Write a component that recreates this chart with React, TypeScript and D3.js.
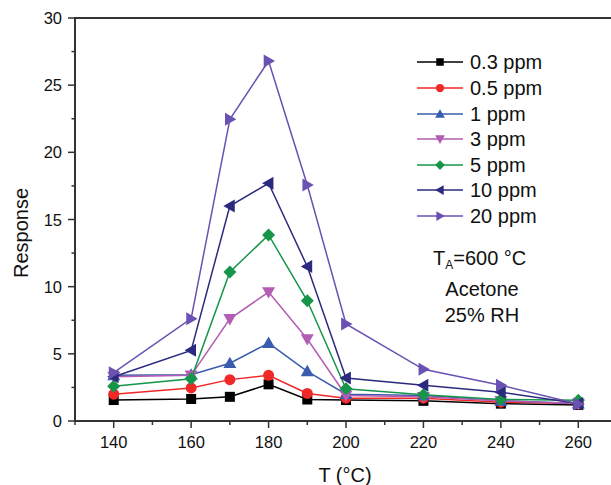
import React from "react";
import * as d3 from "d3";

const temps = [140, 160, 170, 180, 190, 200, 220, 240, 260];
const s03 = [1.56, 1.64, 1.8, 2.73, 1.6, 1.56, 1.5, 1.29, 1.2];
const s05 = [2.0, 2.46, 3.08, 3.4, 2.05, 1.7, 1.7, 1.4, 1.3];
const s1 = [3.4, 3.45, 4.3, 5.8, 3.7, 2.0, 1.9, 1.5, 1.3];
const s3 = [3.3, 3.4, 7.6, 9.6, 6.1, 1.9, 1.8, 1.5, 1.3];
const s5 = [2.58, 3.15, 11.1, 13.85, 8.95, 2.4, 1.96, 1.6, 1.55];
const s10 = [3.3, 5.26, 16.0, 17.7, 11.5, 3.2, 2.66, 2.14, 1.3];
const s20 = [3.6, 7.62, 22.46, 26.8, 17.57, 7.22, 3.85, 2.66, 1.27];

const seriesNames = ["0.3 ppm", "0.5 ppm", "1 ppm", "3 ppm", "5 ppm", "10 ppm", "20 ppm"];
const seriesValues = [s03, s05, s1, s3, s5, s10, s20];
const seriesColors = ["#000000", "#f02828", "#3a5cae", "#b25cb4", "#17954a", "#2c2a7e", "#6a52b2"];
const seriesSymbols = ["square", "circle", "up", "down", "diamond", "left", "right"];

const xTicks = [140, 160, 180, 200, 220, 240, 260];
const xMinor = [130, 150, 170, 190, 210, 230, 250, 270];
const yTicks = [0, 5, 10, 15, 20, 25, 30];
const yMinor = [2.5, 7.5, 12.5, 17.5, 22.5, 27.5];

const W = 611, H = 485;
const x = d3.scaleLinear().domain([130, 270]).range([75, 617]);
const y = d3.scaleLinear().domain([0, 30]).range([421, 18]);
const FONT = "'Liberation Sans', Arial, sans-serif";
const AX = "#333";

function Marker({ type, cx, cy, color, s = 1 }: any) {
  if (type === "square") {
    const a = 5 * s;
    return <rect x={cx - a} y={cy - a} width={2 * a} height={2 * a} fill={color} />;
  }
  if (type === "circle") return <circle cx={cx} cy={cy} r={5.5 * s} fill={color} />;
  if (type === "diamond") {
    const a = 6.5 * s;
    return <path d={`M${cx},${cy - a}L${cx + a},${cy}L${cx},${cy + a}L${cx - a},${cy}Z`} fill={color} />;
  }
  const a = 6.5 * s;
  let d = "";
  if (type === "up") d = `M${cx},${cy - a}L${cx + a},${cy + a * 0.75}L${cx - a},${cy + a * 0.75}Z`;
  if (type === "down") d = `M${cx},${cy + a}L${cx + a},${cy - a * 0.75}L${cx - a},${cy - a * 0.75}Z`;
  if (type === "left") d = `M${cx - a},${cy}L${cx + a * 0.75},${cy - a}L${cx + a * 0.75},${cy + a}Z`;
  if (type === "right") d = `M${cx + a},${cy}L${cx - a * 0.75},${cy - a}L${cx - a * 0.75},${cy + a}Z`;
  return <path d={d} fill={color} />;
}

export default function App() {
  const line = d3.line<number>().x((_, i) => x(temps[i])).y((v) => y(v));
  const legendY = [62, 88, 114, 139, 165, 190, 216];
  return (
    <svg width={W} height={H} style={{ position: "absolute", left: 0, top: 0, background: "#fff" }} fontFamily={FONT}>
      {/* axes */}
      <line x1={75} x2={611} y1={18} y2={18} stroke={AX} strokeWidth={2} />
      <line x1={75} x2={75} y1={17} y2={422} stroke={AX} strokeWidth={2} />
      <line x1={74} x2={611} y1={421} y2={421} stroke={AX} strokeWidth={2} />
      {yTicks.map((t) => (
        <g key={"y" + t}>
          <line x1={68} x2={75} y1={y(t)} y2={y(t)} stroke={AX} strokeWidth={1.5} />
          <text x={62} y={y(t) + 6} textAnchor="end" fontSize={16.5} fill="#111">{t}</text>
        </g>
      ))}
      {yMinor.map((t) => (
        <line key={"ym" + t} x1={71.5} x2={75} y1={y(t)} y2={y(t)} stroke={AX} strokeWidth={1.5} />
      ))}
      {xTicks.map((t) => (
        <g key={"x" + t}>
          <line x1={x(t)} x2={x(t)} y1={421} y2={428} stroke={AX} strokeWidth={1.5} />
          <text x={x(t)} y={448} textAnchor="middle" fontSize={16.5} fill="#111">{t}</text>
        </g>
      ))}
      {xMinor.map((t) => (
        <line key={"xm" + t} x1={x(t)} x2={x(t)} y1={421} y2={425} stroke={AX} strokeWidth={1.5} />
      ))}
      <text transform="translate(28,233) rotate(-90)" textAnchor="middle" fontSize={20} fill="#111">Response</text>
      <text x={345} y={482} textAnchor="middle" fontSize={20} fill="#111">T (°C)</text>

      {/* series */}
      {seriesValues.map((vals, si) => (
        <g key={"s" + si}>
          <path d={line(vals) || ""} fill="none" stroke={seriesColors[si]} strokeWidth={1.5} />
          {vals.map((v, i) => (
            <Marker key={i} type={seriesSymbols[si]} cx={x(temps[i])} cy={y(v)} color={seriesColors[si]} />
          ))}
        </g>
      ))}

      {/* legend */}
      {seriesNames.map((n, i) => (
        <g key={"l" + i}>
          <line x1={417} x2={463} y1={legendY[i]} y2={legendY[i]} stroke={seriesColors[i]} strokeWidth={1.5} />
          <Marker type={seriesSymbols[i]} cx={440} cy={legendY[i]} color={seriesColors[i]} s={0.75} />
          <text x={470} y={legendY[i] + 7} fontSize={20} fill="#111">{n}</text>
        </g>
      ))}

      {/* annotation */}
      <text x={433} y={265} fontSize={20} fill="#111">
        T<tspan fontSize={12} dy={4}>A</tspan><tspan dy={-4}>=600 °C</tspan>
      </text>
      <text x={482} y={296} textAnchor="middle" fontSize={20} fill="#111">Acetone</text>
      <text x={482} y={322} textAnchor="middle" fontSize={20} fill="#111">25% RH</text>
    </svg>
  );
}
